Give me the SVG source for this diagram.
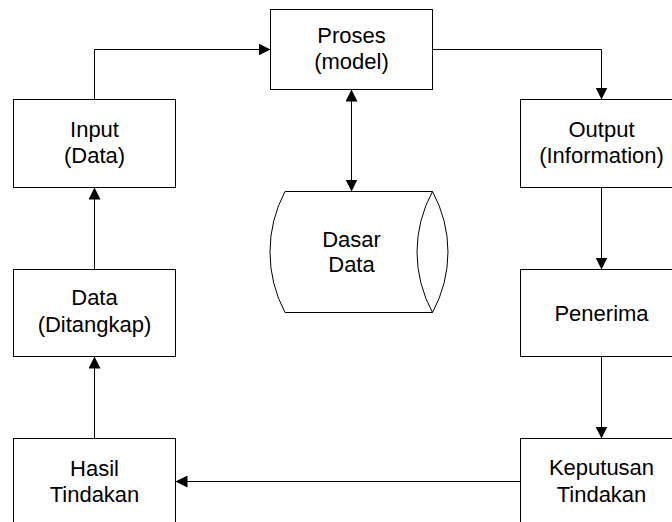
<svg xmlns="http://www.w3.org/2000/svg" width="672" height="522" viewBox="0 0 672 522">
  <style>
    .box { fill: #fff; stroke: #000; stroke-width: 1; }
    .lbl { font-family: "Liberation Sans", Arial, sans-serif; font-size: 22px; fill: #000; text-anchor: middle; }
    .conn { fill: none; stroke: #000; stroke-width: 1; }
  </style>
  <defs>
    <marker id="arrow" markerUnits="userSpaceOnUse" markerWidth="12" markerHeight="12" refX="12" refY="6" orient="auto-start-reverse">
      <path d="M0,0 L12,6 L0,12 z" fill="#000"/>
    </marker>
  </defs>
  <rect width="672" height="522" fill="#fff"/>

  <!-- connectors -->
  <g id="connectors">
    <path class="conn" d="M94.5,99.5 V49.5 H270.5" marker-end="url(#arrow)"/>
    <path class="conn" d="M432.5,49.5 H601.5 V99.5" marker-end="url(#arrow)"/>
    <path class="conn" d="M601.5,187.5 V269.5" marker-end="url(#arrow)"/>
    <path class="conn" d="M601.5,356.5 V438.5" marker-end="url(#arrow)"/>
    <path class="conn" d="M520.5,481.5 H175.5" marker-end="url(#arrow)"/>
    <path class="conn" d="M94.5,438.5 V356.5" marker-end="url(#arrow)"/>
    <path class="conn" d="M94.5,269.5 V187.5" marker-end="url(#arrow)"/>
    <path class="conn" d="M351.5,89.5 V191.5" marker-start="url(#arrow)" marker-end="url(#arrow)"/>
  </g>

  <g id="proses">
    <rect class="box" x="270.5" y="9.5" width="162" height="80"/>
    <text class="lbl" x="351.5" y="42.5">Proses</text>
    <text class="lbl" x="351.5" y="68.5">(model)</text>
  </g>

  <g id="input">
    <rect class="box" x="13.5" y="99.5" width="162" height="88"/>
    <text class="lbl" x="94.5" y="136.5">Input</text>
    <text class="lbl" x="94.5" y="163">(Data)</text>
  </g>

  <g id="output">
    <rect class="box" x="520.5" y="99.5" width="162" height="88"/>
    <text class="lbl" x="601.5" y="136.5">Output</text>
    <text class="lbl" x="601.5" y="163">(Information)</text>
  </g>

  <!-- horizontal drum: circular arc on the left, lens-shaped end on the right -->
  <g id="dasar-data">
    <path class="box" d="M285,191.5 H432.5 V312.5 H285 A129.5,129.5 0 0 1 285,191.5 Z"/>
    <path class="box" d="M432.5,191.5 A126,126 0 0 1 432.5,312.5 A126,126 0 0 1 432.5,191.5 Z"/>
    <text class="lbl" x="351.5" y="246.5">Dasar</text>
    <text class="lbl" x="351.5" y="271.5">Data</text>
  </g>

  <g id="data-ditangkap">
    <rect class="box" x="13.5" y="269.5" width="162" height="87"/>
    <text class="lbl" x="94.5" y="305">Data</text>
    <text class="lbl" x="94.5" y="331.5">(Ditangkap)</text>
  </g>

  <g id="penerima">
    <rect class="box" x="520.5" y="269.5" width="162" height="87"/>
    <text class="lbl" x="601.5" y="320.5">Penerima</text>
  </g>

  <g id="hasil-tindakan">
    <rect class="box" x="13.5" y="438.5" width="162" height="88"/>
    <text class="lbl" x="94.5" y="475.5">Hasil</text>
    <text class="lbl" x="94.5" y="501.5">Tindakan</text>
  </g>

  <g id="keputusan-tindakan">
    <rect class="box" x="520.5" y="438.5" width="162" height="88"/>
    <text class="lbl" x="601.5" y="475">Keputusan</text>
    <text class="lbl" x="601.5" y="501.5">Tindakan</text>
  </g>
</svg>
